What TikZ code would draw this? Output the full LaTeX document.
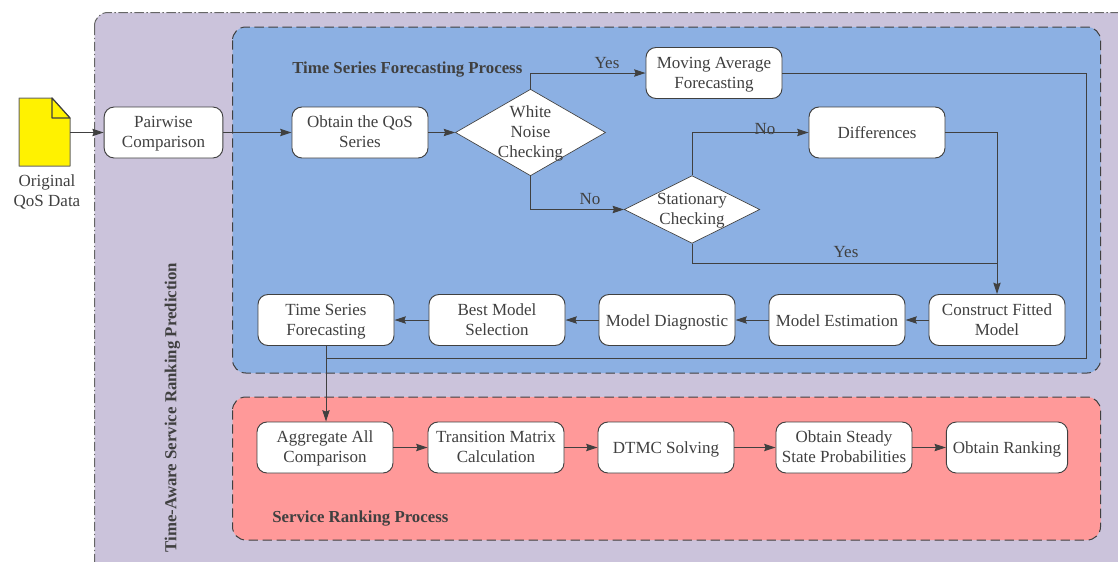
\documentclass[tikz,border=0pt]{standalone}
\usepackage{fontspec}
\setmainfont{Liberation Serif}
\usetikzlibrary{shapes.geometric,arrows.meta,positioning}
\definecolor{ink}{HTML}{404040}
\definecolor{outerfill}{HTML}{CBC3DB}
\definecolor{bluefill}{HTML}{8CB0E3}
\definecolor{redfill}{HTML}{FF9999}
% uniform line boxes, so that text sits alike in every node
\newcommand{\oneln}[1]{\rule[-3.2pt]{0pt}{16pt}#1}
\newcommand{\multi}[1]{\rule{0pt}{11pt}#1\rule[-3pt]{0pt}{3pt}}
\tikzset{
  every node/.style={text=ink,font=\fontsize{12.75pt}{15pt}\selectfont,inner sep=0pt,align=center},
  procbox/.style={draw=ink,fill=white,rounded corners=7.5pt,line width=0.7pt,minimum width=102pt,minimum height=38.25pt},
  decision/.style={draw=ink,fill=white,diamond,line width=0.5pt},
  conn/.style={draw=ink,line width=0.75pt,-{Stealth[length=8.5pt,width=5.5pt,inset=1pt]}},
  plainline/.style={draw=ink,line width=0.75pt},
  region/.style={draw=ink,line width=0.75pt,dash pattern=on 7pt off 3.5pt,rounded corners=10pt},
  heading/.style={font=\fontsize{12.6pt}{15pt}\selectfont\bfseries},
  lbl/.style={font=\fontsize{12.75pt}{15pt}\selectfont}
}
\begin{document}
\begin{tikzpicture}[x=0.75pt,y=-0.75pt]
\useasboundingbox (0,0) rectangle (1118,561);
\clip (0,0) rectangle (1118,561);
% regions
\draw[fill=outerfill,draw=ink!80,line width=0.75pt,dash pattern=on 7pt off 2pt on 1pt off 2pt,rounded corners=10pt] (94.5,12.5) rectangle (1135,580);
\draw[region,fill=bluefill] (232.5,27) rectangle (1100.5,373);
\draw[region,fill=redfill] (232.5,397) rectangle (1100.5,540);
% document icon
\coordinate (docA) at (19,98);
\coordinate (docB) at (52,98);
\coordinate (docC) at (70,118);
\coordinate (docD) at (70,166);
\coordinate (docE) at (19,166);
\coordinate (docF) at (52,118);
\draw[fill=yellow,draw=ink!80,line width=0.75pt,line join=round] (docA) -- (docB) -- (docC) -- (docD) -- (docE) -- cycle;
\draw[fill=yellow,draw=ink,line width=0.9pt,line join=round] (docB) -- (docF) -- (docC) -- cycle;
\coordinate (docout) at (70,132.5);
\node (doclabel) at (47,191.5) {\multi{Original\\QoS Data}};
% headings
\node[heading,anchor=west] (tsp) at (292,67) {\oneln{Time Series Forecasting Process}};
\node[heading,anchor=west] (srp) at (272,516) {\oneln{Service Ranking Process}};
\node[heading,rotate=90] (main) at (170,407.5) {\oneln{Time-Aware Service Ranking Prediction}};
% process nodes
\node[procbox,minimum width=89pt] (pairwise) at (163.5,132.5) {\multi{Pairwise\\Comparison}};
\node[procbox] (obtain) at (360,132.5) {\multi{Obtain the QoS\\Series}};
\node[decision,aspect=1.735,inner sep=-2.3pt] (white) at (530.5,132.5) {\multi{White\\Noise\\Checking}};
\node[procbox] (moving) at (714,73) {\multi{Moving Average\\Forecasting}};
\node[procbox] (diff) at (877,132.5) {\oneln{Differences}};
\node[decision,aspect=2,inner sep=-1.47pt] (stat) at (692,209.5) {\multi{Stationary\\Checking}};
\node[procbox] (fitted) at (997,320) {\multi{Construct Fitted\\Model}};
\node[procbox] (estim) at (837,320) {\oneln{Model Estimation}};
\node[procbox] (diag) at (667,320) {\oneln{Model Diagnostic}};
\node[procbox] (best) at (497,320) {\multi{Best Model\\Selection}};
\node[procbox] (tsf) at (326,320) {\multi{Time Series\\Forecasting}};
\node[procbox] (agg) at (325,447.5) {\multi{Aggregate All\\Comparison}};
\node[procbox] (trans) at (496,447.5) {\multi{Transition Matrix\\Calculation}};
\node[procbox] (dtmc) at (666,447.5) {\oneln{DTMC Solving}};
\node[procbox] (steady) at (844,447.5) {\multi{Obtain Steady\\State Probabilities}};
\node[procbox,minimum width=91pt] (rank) at (1007,447.5) {\oneln{Obtain Ranking}};
% connectors
\draw[conn] (docout) -- (pairwise.west);
\draw[conn] (pairwise.east) -- (obtain.west);
\draw[conn] (obtain.east) -- (white.west);
\draw[conn] (white.north) |- (moving.west);
\draw[conn] (white.south) |- (stat.west);
\draw[conn] (stat.north) |- (diff.west);
\draw[conn] (diff.east) -| (fitted.north);
\coordinate (joinyes) at (fitted.north |- 0,263);
\draw[plainline] (stat.south) |- (joinyes);
\draw[conn] (fitted.west) -- (estim.east);
\draw[conn] (estim.west) -- (diag.east);
\draw[conn] (diag.west) -- (best.east);
\draw[conn] (best.west) -- (tsf.east);
\coordinate (fbcorner) at (1086,73);
\coordinate (fbdown) at (1086,358);
\coordinate (fbjoin) at (tsf.south |- 0,358);
\draw[plainline] (moving.east) -- (fbcorner) -- (fbdown) -- (fbjoin);
\draw[conn] (tsf.south) -- (tsf.south |- agg.north);
\draw[conn] (agg.east) -- (trans.west);
\draw[conn] (trans.east) -- (dtmc.west);
\draw[conn] (dtmc.east) -- (steady.west);
\draw[conn] (steady.east) -- (rank.west);
% edge labels
\node[lbl] (yes1) at (607,62) {\oneln{Yes}};
\node[lbl] (no1) at (590,198.5) {\oneln{No}};
\node[lbl] (no2) at (765,128) {\oneln{No}};
\node[lbl] (yes2) at (846,251) {\oneln{Yes}};
\end{tikzpicture}
\end{document}
